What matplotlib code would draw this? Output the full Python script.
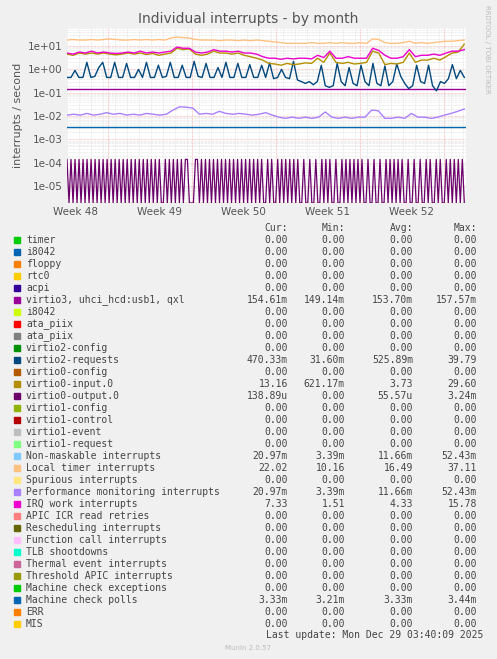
import numpy as np
import matplotlib
matplotlib.use("Agg")
import matplotlib.pyplot as plt
from matplotlib.ticker import FixedLocator, NullFormatter

W, H = 497, 659
BOT = 1.9e-6

local_timer = [18,19,18,18,19,18,19,20,19,18,18,19,18,19,18,19,18,22,24,23,22,19,18,18,18,17,18,18,17,18,17,18,17,16,15,14,13,13,13,13,14,13,13,14,13,14,13,13,14,13,20,19,14,13,13,14,16,13,14,13,14,15,16,16,17,18]
irq_work = [5,4.5,5.5,5,6,5,5.5,5,4.8,5,5.5,5,6,5,5.5,5,5.5,6,9,8,8,5.5,5,5.5,7,6,6,5.5,6,5,5,4.5,3.5,3,3,2.7,3,2.8,3,3,2.8,4,3.2,6,3,3,3.5,3,3,3,8,6.5,4,3,3,3.5,7,3.5,4,4,4.5,4,5,6,6,7]
virtio0_input = [4.5,4,5,4.5,5,4.5,5,4.5,4.2,4.5,5,4.5,5,4.3,4.8,4,4.5,5,8,7,7.5,4.5,4,4.5,6,5,5,4.5,5,4,3.5,3,2.5,1.8,1.7,1.5,1.8,1.6,1.7,1.9,1.8,3,2,5,2,1.8,2,1.7,1.8,2,6,5,1.6,1.8,1.7,2,5,2,2.5,2.5,3,2.5,3.5,5,5.5,12]
virtio2_req = [0.45,0.45,0.9,0.45,0.45,2,0.45,0.5,1.2,2,0.45,0.45,2,0.45,0.45,1.8,0.45,0.45,1,0.45,2,0.45,0.45,1.5,0.45,0.5,2,0.45,0.45,1.5,0.45,0.45,2.2,0.5,0.45,1.8,0.45,0.45,1.2,0.45,2,0.45,0.45,1.8,0.45,0.45,1.6,0.45,0.45,1.5,0.45,1.9,0.4,0.45,1,0.45,0.4,2.2,0.35,0.3,0.25,0.3,0.22,0.3,1.5,0.2,0.17,0.2,1.8,0.3,0.2,1.2,0.25,0.2,1.5,0.3,0.2,1.8,0.25,0.2,1.4,0.2,0.3,1.7,0.5,0.25,0.15,0.2,1.5,0.3,0.25,1.5,0.2,0.12,0.3,0.25,0.4,1.6,0.4,0.9,0.45]
perf_mon = [0.011,0.012,0.011,0.013,0.011,0.012,0.014,0.012,0.013,0.011,0.012,0.011,0.013,0.012,0.011,0.012,0.018,0.025,0.024,0.022,0.012,0.013,0.012,0.016,0.013,0.012,0.013,0.012,0.011,0.012,0.014,0.011,0.009,0.008,0.009,0.008,0.009,0.008,0.009,0.015,0.009,0.008,0.009,0.008,0.009,0.009,0.018,0.017,0.008,0.008,0.009,0.008,0.013,0.009,0.009,0.008,0.009,0.011,0.013,0.016,0.02]
virtio3_const = 0.15
mcp_const = 0.0033
output_pattern = "1010101010101010101010101010101010101010101010100101010101011000110101010101010101010101010101010100101001010101010100100100100101010010010101010101001001001001010101010010010010010100101001010101010"
output_high = 1.4e-4

rows = [
 ("timer","#00CC00","0.00","0.00","0.00","0.00"),
 ("i8042","#0066B3","0.00","0.00","0.00","0.00"),
 ("floppy","#FF8000","0.00","0.00","0.00","0.00"),
 ("rtc0","#FFCC00","0.00","0.00","0.00","0.00"),
 ("acpi","#330099","0.00","0.00","0.00","0.00"),
 ("virtio3, uhci_hcd:usb1, qxl","#990099","154.61m","149.14m","153.70m","157.57m"),
 ("i8042","#CCFF00","0.00","0.00","0.00","0.00"),
 ("ata_piix","#FF0000","0.00","0.00","0.00","0.00"),
 ("ata_piix","#808080","0.00","0.00","0.00","0.00"),
 ("virtio2-config","#008F00","0.00","0.00","0.00","0.00"),
 ("virtio2-requests","#00487D","470.33m","31.60m","525.89m","39.79"),
 ("virtio0-config","#B35A00","0.00","0.00","0.00","0.00"),
 ("virtio0-input.0","#B38F00","13.16","621.17m","3.73","29.60"),
 ("virtio0-output.0","#6B006B","138.89u","0.00","55.57u","3.24m"),
 ("virtio1-config","#8FB300","0.00","0.00","0.00","0.00"),
 ("virtio1-control","#B30000","0.00","0.00","0.00","0.00"),
 ("virtio1-event","#BEBEBE","0.00","0.00","0.00","0.00"),
 ("virtio1-request","#80FF80","0.00","0.00","0.00","0.00"),
 ("Non-maskable interrupts","#80C9FF","20.97m","3.39m","11.66m","52.43m"),
 ("Local timer interrupts","#FFC080","22.02","10.16","16.49","37.11"),
 ("Spurious interrupts","#FFE680","0.00","0.00","0.00","0.00"),
 ("Performance monitoring interrupts","#AA80FF","20.97m","3.39m","11.66m","52.43m"),
 ("IRQ work interrupts","#EE00CC","7.33","1.51","4.33","15.78"),
 ("APIC ICR read retries","#FF8080","0.00","0.00","0.00","0.00"),
 ("Rescheduling interrupts","#666600","0.00","0.00","0.00","0.00"),
 ("Function call interrupts","#FFBFFF","0.00","0.00","0.00","0.00"),
 ("TLB shootdowns","#00FFCC","0.00","0.00","0.00","0.00"),
 ("Thermal event interrupts","#CC6699","0.00","0.00","0.00","0.00"),
 ("Threshold APIC interrupts","#999900","0.00","0.00","0.00","0.00"),
 ("Machine check exceptions","#00CC00","0.00","0.00","0.00","0.00"),
 ("Machine check polls","#0066B3","3.33m","3.21m","3.33m","3.44m"),
 ("ERR","#FF8000","0.00","0.00","0.00","0.00"),
 ("MIS","#FFCC00","0.00","0.00","0.00","0.00"),
]
week_labels = ["Week 48","Week 49","Week 50","Week 51","Week 52"]

fig = plt.figure(figsize=(W/100, H/100), dpi=100, facecolor="#F0F0F0")
L, R, T, B = 67, 466, 28, 203
ax = fig.add_axes([L/W, 1-B/H, (R-L)/W, (B-T)/H])
ax.set_facecolor("white")
ax.set_yscale("log")
X0, X1 = 0.0, 4.75
ax.set_xlim(X0, X1)
ax.set_ylim(BOT, 59)

def xs(n):
    return np.linspace(0, X1 - 0.02, n)

# grid
for dec in range(-6, 2):
    for m in range(2, 10):
        ax.axhline(m*10.0**dec, color="#DDDDDD", lw=0.5, ls=(0,(1,1)), zorder=0)
    ax.axhline(10.0**dec, color="#F4A0A0", lw=0.5, ls=(0,(1,1)), zorder=0)
for d in np.arange(0, 4.75, 1/7):
    ax.axvline(d, color="#DDDDDD", lw=0.5, ls=(0,(1,1)), zorder=0)
week_lines = [0.49, 1.49, 2.49, 3.49, 4.49]
for wl in week_lines:
    ax.axvline(wl, color="#F4A0A0", lw=0.5, ls=(0,(1,1)), zorder=0)

# zero series at bottom
ax.axhline(BOT*1.05, color="#FFE680", lw=1, zorder=1)

pat = np.array([output_high if c == "1" else BOT for c in output_pattern])
ax.plot(xs(len(pat)), pat, color="#6B006B", lw=0.9, zorder=2)
ax.axhline(mcp_const, color="#0066B3", lw=1, zorder=2)
ax.plot(xs(len(perf_mon)), perf_mon, color="#AA80FF", lw=1, zorder=3)
ax.axhline(virtio3_const, color="#990099", lw=1, zorder=3)
ax.plot(xs(len(virtio2_req)), virtio2_req, color="#00487D", lw=1, zorder=4)
ax.plot(xs(len(virtio0_input)), virtio0_input, color="#B38F00", lw=1, zorder=4)
ax.plot(xs(len(irq_work)), irq_work, color="#EE00CC", lw=1, zorder=5)
ax.plot(xs(len(local_timer)), local_timer, color="#FFC080", lw=1, zorder=5)

ax.yaxis.set_major_locator(FixedLocator([1e-5,1e-4,1e-3,1e-2,1e-1,1,10]))
ax.yaxis.set_minor_formatter(NullFormatter())
ax.minorticks_off()
ax.set_yticks([1e-5,1e-4,1e-3,1e-2,1e-1,1,10])
ax.set_yticklabels(["1e-05","1e-04","1e-03","1e-02","1e-01","1e+00","1e+01"])
ax.set_xticks([0.1,1.1,2.1,3.1,4.1])
ax.set_xticklabels(week_labels)
ax.tick_params(axis="both", length=0, labelsize=7.5, colors="#555555", pad=3)
for s in ax.spines.values():
    s.set_visible(False)
ax.set_ylabel("interrupts / second", fontsize=8, color="#555555")

fig.text(248/W, 1-19/H, "Individual interrupts - by month", ha="center", va="center", fontsize=10, color="#555555")
fig.text(487/W, 1-5/H, "RRDTOOL / TOBI OETIKER", rotation=270, ha="center", va="top", fontsize=5, color="#BBBBBB")

mono = "DejaVu Sans Mono"
fs = 7
cols = [288, 345, 413, 477]
for cx, h in zip(cols, ["Cur:","Min:","Avg:","Max:"]):
    fig.text(cx/W, 1-228/H, h, ha="right", va="center", family=mono, fontsize=fs, color="#444444")
for i, (name, col, cur, mn, av, mx) in enumerate(rows):
    y = 240 + i*12
    fig.patches.append(plt.Rectangle((14/W, 1-(y+3)/H), 6/W, 6/H, transform=fig.transFigure, color=col, figure=fig))
    fig.text(26/W, 1-y/H, name, ha="left", va="center", family=mono, fontsize=fs, color="#444444")
    for cx, v in zip(cols, [cur, mn, av, mx]):
        fig.text(cx/W, 1-y/H, v, ha="right", va="center", family=mono, fontsize=fs, color="#444444")
fig.text(483/W, 1-635/H, "Last update: Mon Dec 29 03:40:09 2025", ha="right", va="center", family=mono, fontsize=fs, color="#444444")
fig.text(248/W, 1-648/H, "Munin 2.0.57", ha="center", va="center", fontsize=5, color="#BBBBBB")

fig.savefig("out.png", dpi=100, facecolor=fig.get_facecolor())
